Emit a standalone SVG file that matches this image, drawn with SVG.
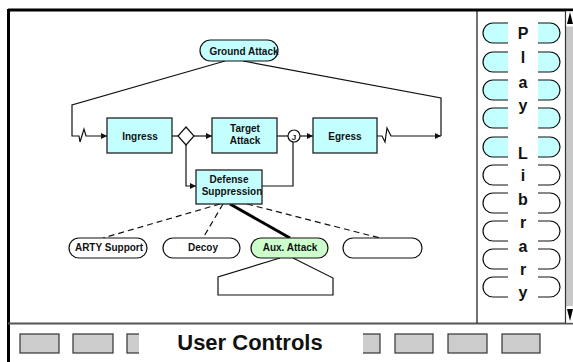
<svg xmlns="http://www.w3.org/2000/svg" width="573" height="362" viewBox="0 0 573 362">
  <style>
    .lbl { font-family: "Liberation Sans", Arial, sans-serif; font-weight: bold; font-size: 10px; fill: #111; text-anchor: middle; }
    .box { fill: #c4ffff; stroke: #222; stroke-width: 1.3; }
    .pill { fill: #fff; stroke: #111; stroke-width: 1.2; }
    .pillc { fill: #c4ffff; stroke: #111; stroke-width: 1.2; }
    .ln { fill: none; stroke: #111; stroke-width: 1.2; }
    .dash { fill: none; stroke: #111; stroke-width: 1.2; stroke-dasharray: 6 4; }
    .btn { fill: #cccccc; stroke: #333; stroke-width: 1.2; }
    .lib { font-family: "Liberation Sans", Arial, sans-serif; font-weight: bold; font-size: 16px; fill: #111; text-anchor: middle; }
  </style>
  <defs>
    <marker id="arr" viewBox="0 0 8 8" refX="8" refY="4" markerWidth="6" markerHeight="6" markerUnits="userSpaceOnUse" orient="auto">
      <path d="M0,0 L8,4 L0,8 Z" fill="#111"/>
    </marker>
  </defs>

  <rect x="0" y="0" width="573" height="362" fill="#fff"/>

  <!-- window frame -->
  <g id="frame">
    <line x1="8" y1="10" x2="573" y2="10" stroke="#000" stroke-width="3"/>
    <line x1="8.5" y1="9" x2="8.5" y2="362" stroke="#000" stroke-width="3"/>
    <line x1="8" y1="323.5" x2="573" y2="323.5" stroke="#555" stroke-width="2"/>
    <line x1="477" y1="11" x2="477" y2="323" stroke="#111" stroke-width="1.2"/>
  </g>

  <!-- scrollbar -->
  <g id="scrollbar">
    <rect x="565.5" y="11.5" width="8" height="311" fill="#c8c8c8"/>
    <rect x="565.5" y="11.5" width="8" height="15" fill="#fff"/>
    <rect x="565.5" y="306" width="8" height="16.5" fill="#fff"/>
    <line x1="565.5" y1="11" x2="565.5" y2="323" stroke="#333" stroke-width="1.2"/>
    <path d="M567,24 L570,12 L573,24 Z" fill="#000"/>
    <path d="M567,309 L570,321 L573,309 Z" fill="#000"/>
  </g>

  <!-- play library -->
  <g id="play-library">
    <rect class="pillc" x="483" y="23" width="77" height="20" rx="10"/>
    <rect class="pillc" x="483" y="52" width="77" height="20" rx="10"/>
    <rect class="pillc" x="483" y="80" width="77" height="20" rx="10"/>
    <rect class="pillc" x="483" y="108" width="77" height="20" rx="10"/>
    <rect class="pillc" x="483" y="137" width="77" height="20" rx="10"/>
    <rect class="pill" x="483" y="165" width="77" height="20" rx="10"/>
    <rect class="pill" x="483" y="193" width="77" height="20" rx="10"/>
    <rect class="pill" x="483" y="221" width="77" height="20" rx="10"/>
    <rect class="pill" x="483" y="249" width="77" height="20" rx="10"/>
    <rect class="pill" x="483" y="277" width="77" height="20" rx="10"/>
    <rect x="508" y="21" width="30" height="278" fill="#fff"/>
    <text class="lib" x="523" y="39">P</text>
    <text class="lib" x="523" y="63">l</text>
    <text class="lib" x="523" y="88">a</text>
    <text class="lib" x="523" y="111">y</text>
    <text class="lib" x="523" y="159">L</text>
    <text class="lib" x="523" y="181">i</text>
    <text class="lib" x="523" y="205">b</text>
    <text class="lib" x="523" y="228">r</text>
    <text class="lib" x="523" y="252">a</text>
    <text class="lib" x="523" y="275">r</text>
    <text class="lib" x="523" y="298">y</text>
  </g>

  <!-- connectors -->
  <g id="connectors">
    <polyline class="ln" points="225,61 72,105 72,136 79,136 80,142 84,129 86,136 107,136" marker-end="url(#arr)"/>
    <polyline class="ln" points="243,61 441,98 441,136"/>
    <polyline class="ln" points="377,136 382,136 385,142 387,128 391,136 441,136" marker-end="url(#arr)"/>
    <line class="ln" x1="172" y1="136" x2="178" y2="136"/>
    <line class="ln" x1="194" y1="136" x2="212" y2="136" marker-end="url(#arr)"/>
    <polyline class="ln" points="186,145 186,186 196,186" marker-end="url(#arr)"/>
    <line class="ln" x1="277" y1="136" x2="288" y2="136"/>
    <line class="ln" x1="300" y1="136" x2="313" y2="136" marker-end="url(#arr)"/>
    <polyline class="ln" points="262,186 293,186 293,142"/>
    <line class="dash" x1="220" y1="204" x2="103" y2="238"/>
    <line class="dash" x1="223" y1="204" x2="203" y2="238"/>
    <line class="dash" x1="247" y1="204" x2="380" y2="238"/>
    <line x1="230" y1="204" x2="290" y2="238" stroke="#000" stroke-width="3"/>
    <polyline class="ln" fill="#fff" points="280,258 218,277 218,295 333,295 333,278 293,258"/>
  </g>

  <!-- nodes -->
  <g id="ground-attack">
    <rect class="pillc" x="200" y="40" width="78" height="21" rx="10.5"/>
    <text class="lbl" x="244" y="55">Ground Attack</text>
  </g>
  <g id="ingress">
    <rect class="box" x="107" y="118" width="65" height="35"/>
    <text class="lbl" x="140" y="140">Ingress</text>
  </g>
  <g id="branch">
    <path d="M186,127 L194,136 L186,145 L178,136 Z" fill="#fff" stroke="#111" stroke-width="1.2"/>
  </g>
  <g id="target-attack">
    <rect class="box" x="212" y="118" width="65" height="35"/>
    <text class="lbl" x="245" y="132">Target</text>
    <text class="lbl" x="245" y="144">Attack</text>
  </g>
  <g id="join">
    <circle cx="294" cy="136" r="6" fill="#fff" stroke="#111" stroke-width="1.2"/>
    <text class="lbl" x="294" y="139.5" style="font-size:8px">J</text>
  </g>
  <g id="egress">
    <rect class="box" x="313" y="118" width="64" height="35"/>
    <text class="lbl" x="345" y="140">Egress</text>
  </g>
  <g id="defense-suppression">
    <rect class="box" x="196" y="170" width="66" height="34"/>
    <text class="lbl" x="229" y="183">Defense</text>
    <text class="lbl" x="232" y="195">Suppression</text>
  </g>
  <g id="arty-support">
    <rect class="pill" x="69" y="238" width="78" height="20" rx="10"/>
    <text class="lbl" x="109" y="251">ARTY Support</text>
  </g>
  <g id="decoy">
    <rect class="pill" x="163" y="238" width="77" height="20" rx="10"/>
    <text class="lbl" x="203" y="251">Decoy</text>
  </g>
  <g id="aux-attack">
    <rect class="pill" style="fill:#ccffcc" x="251" y="238" width="77" height="20" rx="10"/>
    <text class="lbl" x="290" y="251">Aux. Attack</text>
  </g>
  <g id="empty-option">
    <rect class="pill" x="343" y="238" width="79" height="20" rx="10"/>
  </g>

  <!-- user controls -->
  <g id="user-controls">
    <rect class="btn" x="20" y="334" width="39" height="19"/>
    <rect class="btn" x="73" y="334" width="40" height="19"/>
    <rect class="btn" x="127" y="334" width="16" height="19"/>
    <rect class="btn" x="358" y="334" width="22" height="19"/>
    <rect class="btn" x="395" y="334" width="38" height="19"/>
    <rect class="btn" x="448" y="334" width="39" height="19"/>
    <rect class="btn" x="502" y="334" width="38" height="19"/>
    <rect x="139" y="330" width="224" height="28" fill="#fff"/>
    <text x="250" y="350" style="font-family:'Liberation Sans',Arial,sans-serif;font-weight:bold;font-size:22px;fill:#111;text-anchor:middle">User Controls</text>
  </g>
</svg>
